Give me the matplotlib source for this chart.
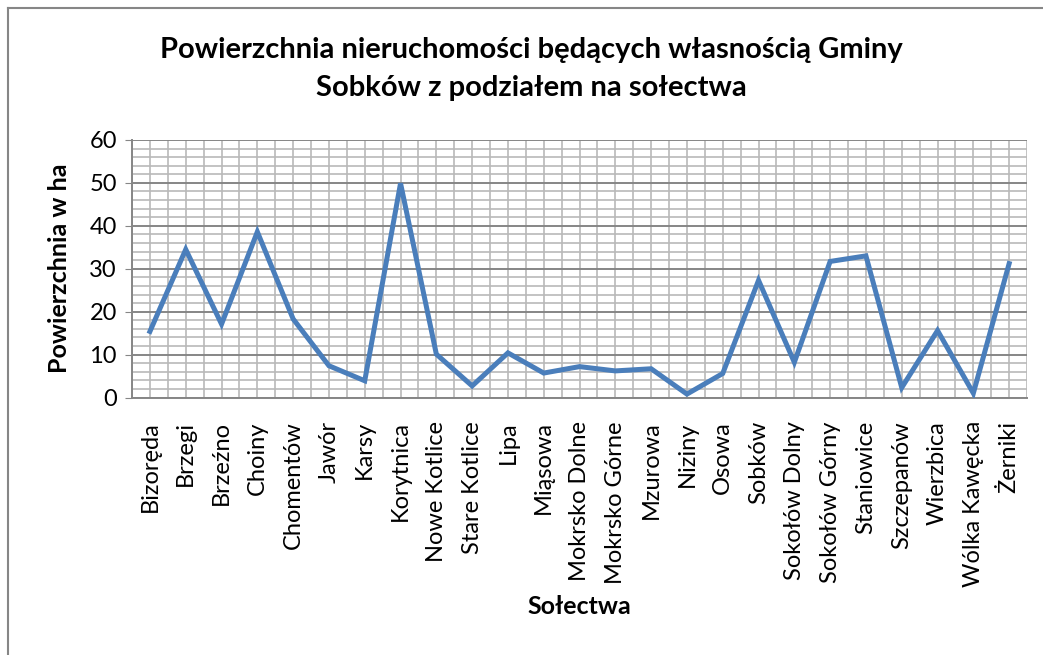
import numpy as np
import matplotlib.pyplot as plt
from matplotlib.ticker import MultipleLocator
from matplotlib.lines import Line2D

plt.rcParams['font.family'] = ['Lato', 'DejaVu Sans']

solectwa = ['Bizoręda', 'Brzegi', 'Brzeźno', 'Choiny', 'Chomentów', 'Jawór', 'Karsy',
            'Korytnica', 'Nowe Kotlice', 'Stare Kotlice', 'Lipa', 'Miąsowa',
            'Mokrsko Dolne', 'Mokrsko Górne', 'Mzurowa', 'Niziny', 'Osowa', 'Sobków',
            'Sokołów Dolny', 'Sokołów Górny', 'Staniowice', 'Szczepanów', 'Wierzbica',
            'Wólka Kawęcka', 'Żerniki']
powierzchnia = [15.4, 34.5, 17.1, 38.6, 18.3, 7.4, 3.9, 49.9, 10.1, 2.7, 10.4, 5.7,
                7.2, 6.2, 6.7, 0.8, 5.6, 27.3, 8.2, 31.7, 33.0, 2.3, 15.6, 1.0, 31.2]

fig = plt.figure(figsize=(10.43, 6.55), dpi=100)
ax = fig.add_axes([0.1266, 0.3931, 0.9847 - 0.1266, 0.7863 - 0.3931])

x = np.arange(len(solectwa))
ax.plot(x, powierzchnia, color='#4A7EBB', linewidth=3.6, solid_joinstyle='miter', zorder=3)

ax.set_xlim(-0.5, len(solectwa) - 0.5)
ax.set_ylim(0, 60)
ax.yaxis.set_major_locator(MultipleLocator(10))
ax.yaxis.set_minor_locator(MultipleLocator(2))
ax.set_xticks(x)
ax.set_xticklabels(solectwa, rotation=90, fontsize=17)
ax.xaxis.set_minor_locator(MultipleLocator(0.5))

ax.grid(which='minor', axis='y', color='#B9B9B9', linewidth=1.2)
ax.grid(which='major', axis='y', color='#868686', linewidth=1.4)
ax.grid(which='both', axis='x', color='#B9B9B9', linewidth=1.2)
ax.set_axisbelow(True)

ax.tick_params(axis='y', which='major', length=5, color='#868686', labelsize=17, pad=6)
ax.tick_params(axis='y', which='minor', length=0)
ax.tick_params(axis='x', which='both', length=0, pad=17)

for s in ['top', 'right']:
    ax.spines[s].set_visible(False)
for s in ['left', 'bottom']:
    ax.spines[s].set_color('#868686')
    ax.spines[s].set_linewidth(1.4)

fig.text(0.0566, 0.591, 'Powierzchnia w ha', fontsize=18, fontweight='bold',
         rotation=90, ha='center', va='center')
fig.text(0.555, 0.0733, 'Sołectwa', fontsize=18, fontweight='bold', ha='center', va='center')

fig.text(0.509, 0.924, 'Powierzchnia nieruchomości będących własnością Gminy',
         fontsize=21, fontweight='bold', ha='center', va='center')
fig.text(0.509, 0.866, 'Sobków z podziałem na sołectwa',
         fontsize=21, fontweight='bold', ha='center', va='center')

# chart frame (top and left edges visible)
fig.add_artist(Line2D([0.0077, 0.0077], [0, 0.988], color='#868686', linewidth=1.5))
fig.add_artist(Line2D([0.0077, 1.0], [0.988, 0.988], color='#868686', linewidth=1.5))

fig.savefig('out.png', dpi=100)
